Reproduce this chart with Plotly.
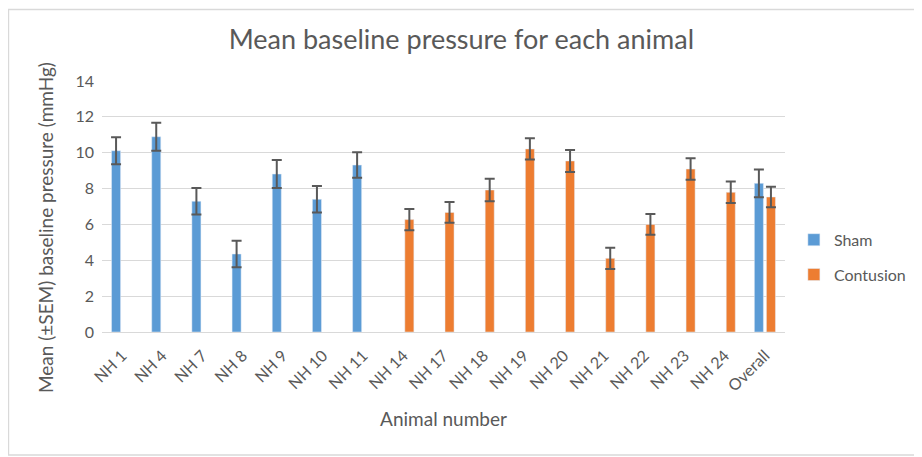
import plotly.graph_objects as go

categories = ["NH 1", "NH 4", "NH 7", "NH 8", "NH 9", "NH 10", "NH 11", "NH 14", "NH 17",
              "NH 18", "NH 19", "NH 20", "NH 21", "NH 22", "NH 23", "NH 24", "Overall"]
sham = [10.11, 10.89, 7.29, 4.35, 8.81, 7.40, 9.31, None, None,
        None, None, None, None, None, None, None, 8.29]
sham_sem = [0.75, 0.78, 0.74, 0.74, 0.78, 0.74, 0.71, None, None,
            None, None, None, None, None, None, None, 0.78]
contusion = [None, None, None, None, None, None, None, 6.27, 6.67,
             7.92, 10.21, 9.54, 4.11, 6.00, 9.09, 7.79, 7.53]
contusion_sem = [None, None, None, None, None, None, None, 0.59, 0.58,
                 0.63, 0.59, 0.61, 0.59, 0.58, 0.60, 0.60, 0.57]
y_ticks = [0, 2, 4, 6, 8, 10, 12, 14]

FONT = "Lato, Calibri, sans-serif"
TXT = "#595959"

fig = go.Figure()
fig.add_trace(go.Bar(
    x=categories, y=sham, name="Sham", marker_color="#5B9BD5", legendgroup="sham",
    error_y=dict(type="data", array=sham_sem, visible=True, color="#595959", thickness=2, width=5),
))
fig.add_trace(go.Bar(
    x=categories, y=contusion, name="Contusion", marker_color="#ED7D31", legendgroup="contusion",
    error_y=dict(type="data", array=contusion_sem, visible=True, color="#595959", thickness=2, width=5),
))

fig.update_layout(
    width=914, height=449,
    margin=dict(l=94, r=137, t=73, b=125, autoexpand=False),
    paper_bgcolor="white", plot_bgcolor="white",
    barmode="group", bargap=0.40, bargroupgap=0.25,
    font=dict(family=FONT, color=TXT),
    title=dict(text="Mean baseline pressure for each animal", x=0.496, xanchor="center",
               y=0.929, yanchor="middle", font=dict(size=27, color=TXT, family=FONT)),
    legend=dict(x=1.013, xanchor="left", y=0.435, yanchor="top",
                font=dict(size=16, color=TXT), itemwidth=30, tracegroupgap=11),
    showlegend=True,
)
fig.update_xaxes(
    type="category", tickangle=-45, tickfont=dict(size=16, color=TXT), automargin=False,
    showline=True, linecolor="#D9D9D9", linewidth=1, ticks="", ticklabelstandoff=7,
    title=dict(text="Animal number", font=dict(size=19, color=TXT), standoff=19),
)
fig.update_yaxes(
    range=[0, 14], tickvals=y_ticks, tickfont=dict(size=16, color=TXT), automargin=False,
    showgrid=True, gridcolor="#D9D9D9", gridwidth=1, zeroline=False,
    ticklabelstandoff=7,
)
fig.add_annotation(
    text="Mean (±SEM) baseline pressure (mmHg)", textangle=-90,
    xref="paper", yref="paper", x=-0.0835, y=0.418, xanchor="center", yanchor="middle",
    showarrow=False, font=dict(size=19, color=TXT, family=FONT),
)
fig.add_shape(type="rect", xref="paper", yref="paper",
              x0=-0.137, x1=1.21, y0=-0.49, y1=1.285,
              line=dict(color="#D9D9D9", width=1.5), fillcolor="rgba(0,0,0,0)", layer="below")

fig.write_html("out.html")
